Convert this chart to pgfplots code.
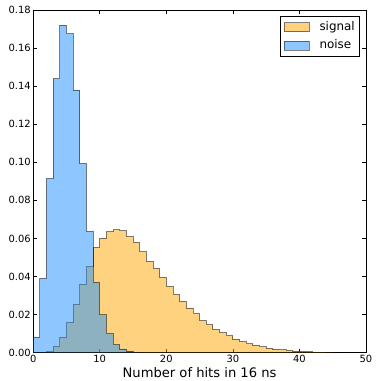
\documentclass[border=0pt]{standalone}
\usepackage{pgfplots}
\pgfplotsset{compat=1.18}
\usepackage{fontspec}
\setmainfont{DejaVu Sans}
\definecolor{sigc}{RGB}{255,165,0}
\definecolor{noic}{RGB}{30,144,255}
\begin{document}
\begin{tikzpicture}
\begin{axis}[
  name=ax,
  scale only axis,
  width=334bp, height=344bp,
  xmin=0, xmax=50, ymin=0, ymax=0.18,
  xtick={0,10,20,30,40,50},
  ytick={0,0.02,0.04,0.06,0.08,0.10,0.12,0.14,0.16,0.18},
  yticklabel style={/pgf/number format/fixed, /pgf/number format/fixed zerofill, /pgf/number format/precision=2},
  /pgf/number format/assume math mode=true,
  tick align=inside,
  major tick length=4bp,
  tick style={black, line width=0.5pt},
  axis line style={black, line width=0.8pt},
  tick label style={font=\fontsize{10}{12}\selectfont},
  xticklabel style={yshift=1bp},
  yticklabel style={xshift=1bp},
  xlabel={Number of hits in 16 ns},
  xlabel style={font=\fontsize{13.2}{15}\selectfont, yshift=2bp},
  legend cell align=left,
  legend style={at={(0.982,0.9826)}, anchor=north east, draw=black, line width=0.5pt,
    font=\fontsize{12}{14}\selectfont, inner xsep=4bp, inner ysep=4bp,
    row sep=4.5bp, column sep=9bp,
    nodes={inner sep=1bp, text height=9bp, text depth=3bp}},
  legend image code/.code={\draw[#1] (0bp,-4.5bp) rectangle (25bp,4.5bp);},
]
\addplot[const plot, fill=sigc, fill opacity=0.5, draw=black, draw opacity=0.5, line width=0.8pt]
coordinates {
(2,0.0005) (3,0.0035) (4,0.0082) (5,0.016) (6,0.0255) (7,0.036) (8,0.0454) (9,0.0553)
(10,0.0602) (11,0.0635) (12,0.0645) (13,0.064) (14,0.061) (15,0.058) (16,0.053) (17,0.048)
(18,0.0443) (19,0.0396) (20,0.0349) (21,0.0307) (22,0.027) (23,0.0235) (24,0.0204)
(25,0.0169) (26,0.0148) (27,0.0122) (28,0.0105) (29,0.009) (30,0.0072) (31,0.0059)
(32,0.0047) (33,0.004) (34,0.0031) (35,0.0024) (36,0.0019) (37,0.0015) (38,0.0012)
(39,0.0009) (40,0.0007) (41,0.0005) (42,0.0004) (43,0.0003) (44,0.0002) (45,0.0001)
(46,0.0001)
} \closedcycle;
\addlegendentry{signal}
\addplot[const plot, fill=noic, fill opacity=0.5, draw=black, draw opacity=0.5, line width=0.8pt]
coordinates {
(0,0.0082) (1,0.039) (2,0.0914) (3,0.1439) (4,0.172) (5,0.1675) (6,0.138) (7,0.0993)
(8,0.0637) (9,0.037) (10,0.0199) (11,0.0099) (12,0.0043) (13,0.002) (14,0.0009)
(15,0.0003) (16,0.0003)
} \closedcycle;
\addlegendentry{noise}
\end{axis}
\path ([xshift=-33.3bp,yshift=-27bp]ax.south west) rectangle ([xshift=7.7bp,yshift=10bp]ax.north east);
\end{tikzpicture}
\end{document}
